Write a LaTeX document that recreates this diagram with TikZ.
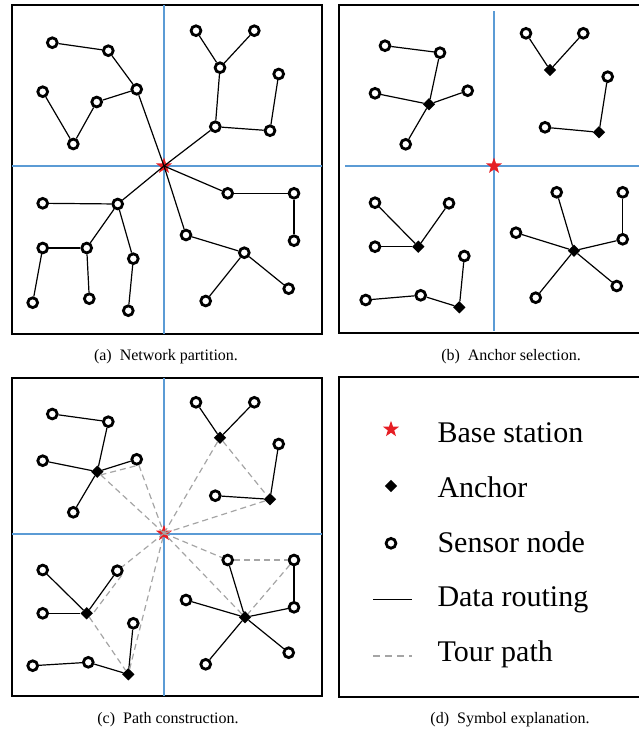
\documentclass[tikz,border=0pt]{standalone}
\usepackage{fontspec}
\setmainfont{Liberation Serif}
\usetikzlibrary{shapes.geometric}
\definecolor{bsred}{RGB}{230,30,36}
\definecolor{partblue}{RGB}{91,155,213}
\definecolor{tourgray}{RGB}{165,165,165}
\tikzset{
  sensor/.style={circle, draw, fill=white, line width=2.8pt, inner sep=0pt, minimum size=9.8pt},
  anchr/.style={diamond, fill=black, inner sep=0pt, minimum size=12.5pt},
  basest/.style={star, star points=5, star point ratio=2.5, fill=bsred, inner sep=0pt, minimum size=17pt},
  route/.style={line width=1.2pt},
  tour/.style={draw=tourgray, line width=1.2pt, dash pattern=on 6pt off 4pt},
  partline/.style={draw=partblue, line width=1.5pt},
  panel/.style={draw, line width=2pt},
  legtext/.style={anchor=base west, inner sep=0pt, font=\fontsize{30}{36}\selectfont},
  captext/.style={anchor=base, inner sep=0pt, font=\fontsize{16}{19}\selectfont},
}
\begin{document}
\begin{tikzpicture}[x=1pt, y=-1pt]
  \clip (0,0) rectangle (639,731);
  % frames and partition lines
  \draw[panel] (12,5) rectangle (322,334);
  \draw[panel] (660,5) -- (339.3,5) -- (339.3,333.3) -- (660,333.3);
  \draw[panel] (11.7,378.3) rectangle (322.3,696);
  \draw[panel] (660,377.3) -- (339,377.3) -- (339,696.7) -- (660,696.7);
  \draw[partline] (164,5) -- (164,334);
  \fill[partblue] (12,164.9) rectangle (322,166.6);
  \draw[partline] (494,11) -- (494,331);
  \fill[partblue] (345,164.9) rectangle (660,166.6);
  \draw[partline] (164,378.3) -- (164,696);
  \fill[partblue] (11.7,532.5) rectangle (322.3,534.5);

  % (a) network partition
  \node[basest] (bsa) at (164,166) {};
  \foreach \n/\x/\y in {a1/52.3/42.7, a2/108.3/50.7, a3/136.7/89.3, a4/42.7/91.7, a5/96.7/102, a6/73.3/144,
      a7/196/30.7, a8/254.3/30.7, a9/220/67.7, a10/278.7/74, a11/215.3/126.7, a12/270/130.7,
      a13/227.7/193.3, a14/294/193.3, a15/294/240.7, a16/186/235, a17/244.3/252.7, a18/288.7/288.7, a19/205.7/301,
      a20/42.7/203.3, a21/117.7/204, a22/42.7/248, a23/86.7/248, a24/133.3/258.7, a25/32.7/302.7, a26/89.3/298.7, a27/128.3/310.7}
    \node[sensor] (\n) at (\x,\y) {};
  \foreach \u/\v in {a1/a2, a2/a3, a3/a5, a5/a6, a6/a4, a3/bsa.center,
      a7/a9, a8/a9, a9/a11, a11/a12, a12/a10, a11/bsa.center,
      bsa.center/a13, a13/a14, a14/a15, bsa.center/a16, a16/a17, a17/a18, a17/a19,
      bsa.center/a21, a21/a20, a21/a23, a23/a22, a22/a25, a23/a26, a21/a24, a24/a27}
    \draw[route] (\u) -- (\v);

  % (b) anchor selection
  \node[basest] (bsb) at (494,166) {};
  \foreach \n/\x/\y in {b1/385/45.7, b2/440/52.7, b3/375/93.3, b4/467.7/90.7, b5/405.7/144.3,
      b6/526/33.3, b7/583.3/33.3, b8/607.7/76.7, b9/545/127.3,
      b10/375/202.7, b11/449/203.3, b12/375/246.7, b13/464.3/256, b14/365.7/300, b15/420.7/295.3,
      b16/556.7/192.3, b17/622.7/192.3, b18/516/232.7, b19/622.7/239.3, b20/616.7/286, b21/535.7/297.7}
    \node[sensor] (\n) at (\x,\y) {};
  \foreach \n/\x/\y in {ba1/429/104.3, ba2/550/70, ba3/599/132.3, ba4/418.3/246.7, ba5/459.3/307.3, ba6/574/250.7}
    \node[anchr] (\n) at (\x,\y) {};
  \foreach \u/\v in {b1/b2, b2/ba1, b3/ba1, b4/ba1, b5/ba1, b6/ba2, b7/ba2, b9/ba3, ba3/b8,
      b10/ba4, b11/ba4, b12/ba4, b14/b15, b15/ba5, ba5/b13,
      b16/ba6, b18/ba6, b19/ba6, b17/b19, b20/ba6, b21/ba6}
    \draw[route] (\u) -- (\v);

  % (c) path construction
  \node[basest] (bsc) at (164,533.3) {};
  \foreach \n/\x/\y in {c1/52.3/414, c2/108.3/421.7, c3/42.7/460.7, c4/136.7/459.3, c5/73.3/512.3,
      c6/196/402.3, c7/254.3/402.3, c8/278.7/444, c9/215.3/495.7,
      c10/42.7/570, c11/117.3/570.7, c12/42.7/613.3, c13/133.3/623.3, c14/32.7/665.7, c15/88.3/662.3,
      c16/227.7/560, c17/294/560, c18/186/600, c19/294/607.3, c20/288.7/652.7, c21/205.7/664.3}
    \node[sensor] (\n) at (\x,\y) {};
  \foreach \n/\x/\y in {ca1/97.3/471.7, ca2/220/437.7, ca3/270/499.3, ca4/86.7/613.3, ca5/128.3/674.3, ca6/245/617.3}
    \node[anchr] (\n) at (\x,\y) {};
  \foreach \u/\v in {c1/c2, c2/ca1, c3/ca1, c4/ca1, c5/ca1, c6/ca2, c7/ca2, c9/ca3, ca3/c8,
      c10/ca4, c11/ca4, c12/ca4, c14/c15, c15/ca5, ca5/c13,
      c16/ca6, c18/ca6, c19/ca6, c17/c19, c20/ca6, c21/ca6}
    \draw[route] (\u) -- (\v);
  \foreach \u/\v in {bsc.center/ca1, ca1.south east/c4.south, c4/bsc.center,
      bsc.center/ca2, ca2/ca3, ca3/bsc.center,
      bsc.center/c11, c11.south east/ca4.east, ca4/ca5, ca5/bsc.center,
      bsc.center/c16, c16/c17, c17/ca6, ca6/bsc.center}
    \draw[tour] (\u) -- (\v);

  % (d) symbol explanation
  \node[basest] (lgs) at (391,429.3) {};
  \node[anchr] (lga) at (391,486) {};
  \node[sensor] (lgn) at (391,543.3) {};
  \coordinate (lgr1) at (373.3,599.3);
  \coordinate (lgr2) at (411.7,599.3);
  \coordinate (lgt1) at (373.3,656);
  \coordinate (lgt2) at (411.7,656);
  \draw[route] (lgr1) -- (lgr2);
  \draw[tour, dash pattern=on 7pt off 5pt] (lgt1) -- (lgt2);
  \node[legtext] (txs) at (437.3,442.7) {Base station};
  \node[legtext] (txa) at (437.3,497.5) {Anchor};
  \node[legtext] (txn) at (437.3,552) {Sensor node};
  \node[legtext] (txr) at (437.3,606.5) {Data routing};
  \node[legtext] (txt) at (437.3,661) {Tour path};

  % captions
  \node[captext] (capa) at (166,360) {(a)\ \ Network partition.};
  \node[captext] (capb) at (511,360) {(b)\ \ Anchor selection.};
  \node[captext] (capc) at (168,723.5) {(c)\ \ Path construction.};
  \node[captext] (capd) at (510,723.5) {(d)\ \ Symbol explanation.};
\end{tikzpicture}
\end{document}
